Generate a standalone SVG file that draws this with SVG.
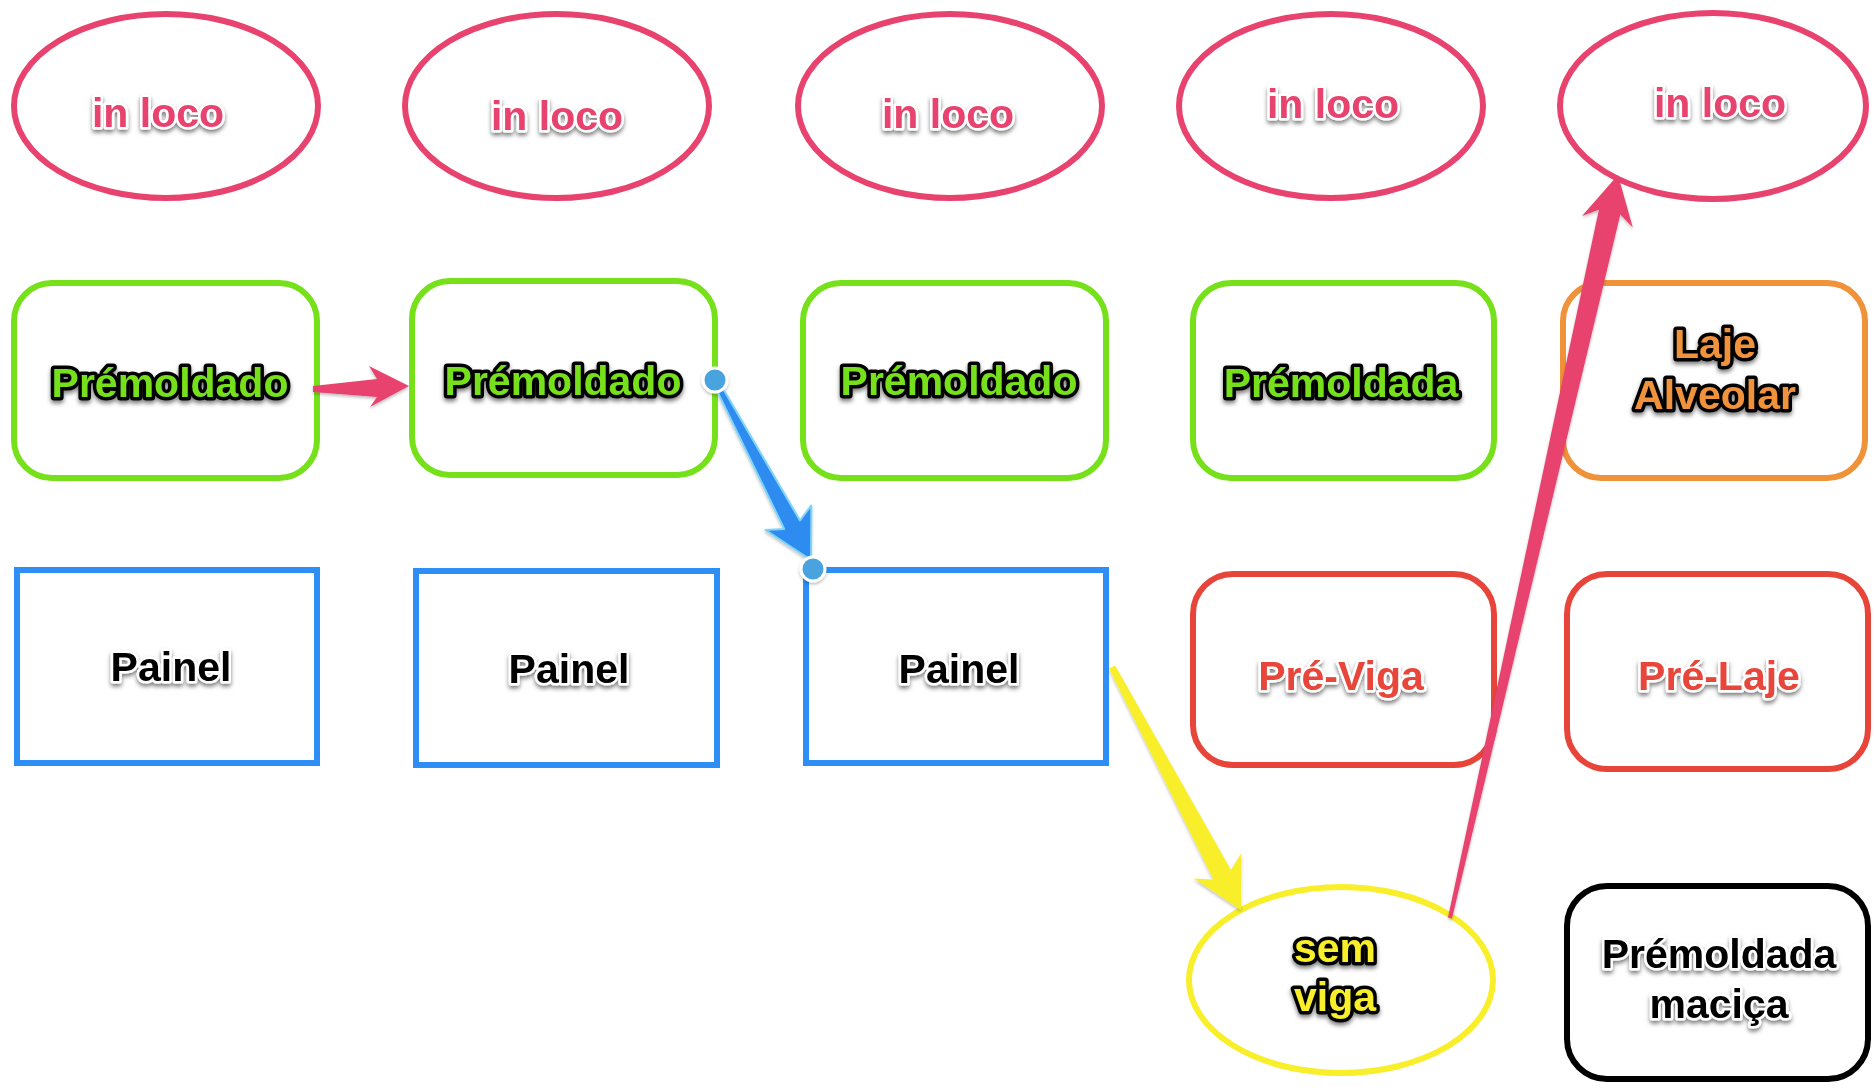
<svg xmlns="http://www.w3.org/2000/svg" width="1874" height="1088" viewBox="0 0 1874 1088">
  <defs>
    <filter id="shadow" x="-20%" y="-40%" width="140%" height="180%">
      <feDropShadow dx="0" dy="3" stdDeviation="2" flood-color="#000" flood-opacity="0.5"/>
    </filter>
    <filter id="soft" x="-20%" y="-20%" width="140%" height="140%">
      <feDropShadow dx="0" dy="2" stdDeviation="1.5" flood-color="#000" flood-opacity="0.25"/>
    </filter>
    <style>
      .lbl { font-family: "Liberation Sans", Arial, sans-serif; font-weight: bold; font-size: 41px; text-anchor: middle; paint-order: stroke; stroke-linejoin: round; filter: url(#shadow); }
      .light { stroke: #fff; stroke-width: 5px; }
      .dark { stroke: #000; stroke-width: 7px; }
      .pink-t { fill: #e8436e; }
      .green-t { fill: #76e01a; }
      .orange-t { fill: #f0923a; }
      .yellow-t { fill: #f8ef2a; }
      .red-t { fill: #e8453a; }
      .black-t { fill: #000; }
      .shape { fill: #fff; stroke-width: 6px; }
      .pink { stroke: #e8436e; }
      .green { stroke: #76e01a; }
      .orange { stroke: #f0923a; }
      .blue { stroke: #2d8ef5; }
      .red { stroke: #e8453a; }
      .yellow { stroke: #f8ef2a; }
      .black { stroke: #000; }
      .dot { fill: #4aa3df; stroke: #fff; stroke-width: 3px; }
    </style>
  </defs>
  <rect width="1874" height="1088" fill="#fff"/>

  <!-- row 1: in loco ellipses -->
  <g id="inloco1"><ellipse class="shape pink" cx="166" cy="106" rx="152" ry="92"/><text class="lbl light pink-t" x="158" y="127">in loco</text></g>
  <g id="inloco2"><ellipse class="shape pink" cx="557" cy="106" rx="152" ry="92"/><text class="lbl light pink-t" x="557" y="130">in loco</text></g>
  <g id="inloco3"><ellipse class="shape pink" cx="950" cy="106" rx="152" ry="92"/><text class="lbl light pink-t" x="948" y="128">in loco</text></g>
  <g id="inloco4"><ellipse class="shape pink" cx="1331" cy="106" rx="152" ry="92"/><text class="lbl light pink-t" x="1333" y="118">in loco</text></g>
  <g id="inloco5"><ellipse class="shape pink" cx="1713" cy="106" rx="153" ry="93"/><text class="lbl light pink-t" x="1720" y="117">in loco</text></g>

  <!-- row 2: precast / hollow-core -->
  <g id="premoldado1"><rect class="shape green" x="14" y="283" width="303" height="195" rx="38"/><text class="lbl dark green-t" x="170" y="397">Prémoldado</text></g>
  <g id="premoldado2"><rect class="shape green" x="412" y="281" width="303" height="194" rx="38"/><text class="lbl dark green-t" x="563" y="395">Prémoldado</text></g>
  <g id="premoldado3"><rect class="shape green" x="803" y="283" width="303" height="195" rx="38"/><text class="lbl dark green-t" x="959" y="395">Prémoldado</text></g>
  <g id="premoldada4"><rect class="shape green" x="1193" y="283" width="301" height="195" rx="38"/><text class="lbl dark green-t" x="1341" y="397">Prémoldada</text></g>
  <g id="alveolar"><rect class="shape orange" x="1563" y="283" width="302" height="195" rx="38"/><text class="lbl dark orange-t" x="1715" y="358">Laje</text><text class="lbl dark orange-t" x="1715" y="409">Alveolar</text></g>

  <!-- row 3: panels and pre-slabs -->
  <g id="painel1"><rect class="shape blue" x="17" y="570" width="300" height="193"/><text class="lbl light black-t" x="171" y="681">Painel</text></g>
  <g id="painel2"><rect class="shape blue" x="416" y="571" width="301" height="194"/><text class="lbl light black-t" x="569" y="683">Painel</text></g>
  <g id="painel3"><rect class="shape blue" x="806" y="570" width="300" height="193"/><text class="lbl light black-t" x="959" y="683">Painel</text></g>
  <g id="previga"><rect class="shape red" x="1193" y="574" width="301" height="191" rx="40"/><text class="lbl light red-t" x="1341" y="690">Pré-Viga</text></g>
  <g id="prelaje"><rect class="shape red" x="1567" y="574" width="301" height="195" rx="40"/><text class="lbl light red-t" x="1719" y="690">Pré-Laje</text></g>

  <!-- row 4 -->
  <g id="semviga"><ellipse class="shape yellow" cx="1341" cy="980" rx="152" ry="93"/><text class="lbl dark yellow-t" x="1335" y="962">sem</text><text class="lbl dark yellow-t" x="1335" y="1011">viga</text></g>
  <g id="macica"><rect class="shape black" x="1567" y="886" width="301" height="193" rx="40"/><text class="lbl light black-t" x="1719" y="968">Prémoldada</text><text class="lbl light black-t" x="1719" y="1018">maciça</text></g>

  <!-- connectors: tapered arrows, thin at the tail and wide at the head -->
  <g id="connectors" filter="url(#soft)">
    <polygon fill="#e8436e" points="313,386 377,379 369,366 409,386 370,407 377,397 313,392"/>
    <polygon fill="#2d8cf0" stroke="#7fd3f7" stroke-width="2" stroke-linejoin="round" points="715.4,387.4 784.2,528.9 765.5,530 811,560 811.3,505.4 800,520.5 720.6,384.6"/>
    <circle class="dot" cx="715" cy="380" r="12"/>
    <circle class="dot" cx="813" cy="569" r="12"/>
    <polygon fill="#f8ef2a" points="1108.9,668.6 1213.4,879.4 1193.8,878.5 1241,910 1241.4,853.1 1231,870 1115.1,665.4"/>
    <polygon fill="#e8436e" points="1452,918.4 1620.3,214.5 1632.8,227.5 1618,175 1582,216.1 1598.9,209.7 1448,917.6"/>
  </g>
</svg>
